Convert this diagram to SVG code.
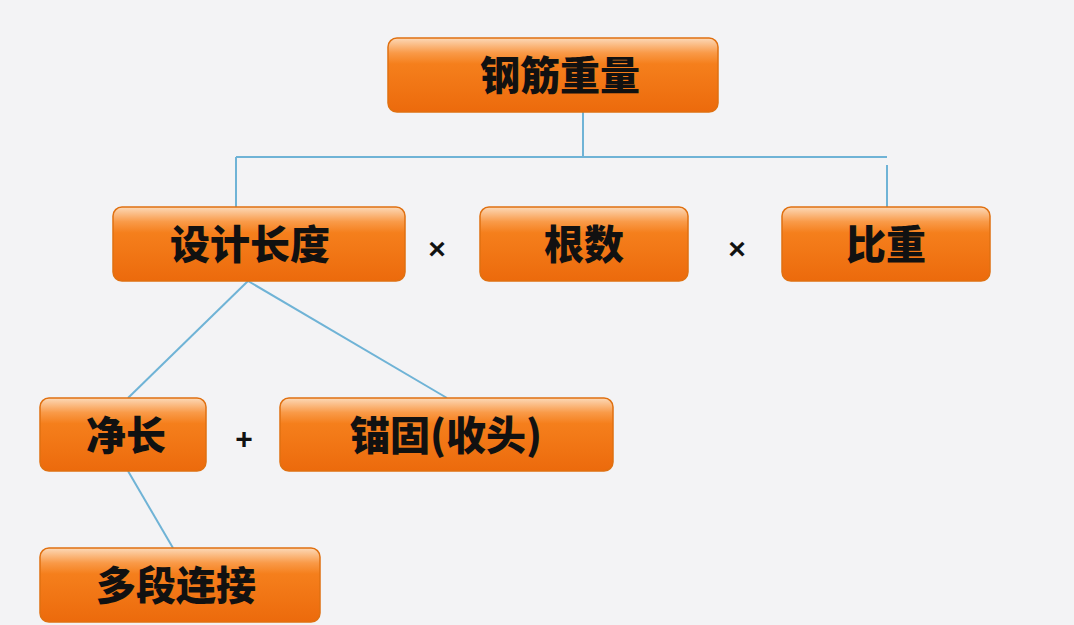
<svg xmlns="http://www.w3.org/2000/svg" width="1074" height="625" viewBox="0 0 1074 625">
<style>
.n{stroke:#e07010;stroke-width:1.5}
.t{font-family:"Noto Sans CJK SC","Noto Sans CJK TC",sans-serif;font-weight:900;font-size:40px;fill:#111;text-anchor:middle}
.op{font-family:"Liberation Sans",sans-serif;font-weight:bold;font-size:30px;fill:#111;text-anchor:middle}
.c line{stroke:#6fb3d6;stroke-width:2}
</style>
<defs>
<linearGradient id="g" x1="0" y1="0" x2="0" y2="1">
<stop offset="0" stop-color="#fcd9b8"/>
<stop offset="0.2" stop-color="#f99a48"/>
<stop offset="0.35" stop-color="#f57f1c"/>
<stop offset="1" stop-color="#ec6a0c"/>
</linearGradient>
</defs>
<rect width="1074" height="625" fill="#f3f3f5"/>
<g class="c">
<line x1="583" y1="112" x2="583" y2="157"/>
<line x1="236" y1="157" x2="887" y2="157"/>
<line x1="236" y1="157" x2="236" y2="207"/>
<line x1="887" y1="165" x2="887" y2="207"/>
<line x1="248" y1="281" x2="128" y2="398"/>
<line x1="248" y1="281" x2="447" y2="398"/>
<line x1="128" y1="471" x2="173" y2="548"/>
</g>
<g id="n1"><rect class="n" x="388" y="38" width="330" height="74" rx="9" fill="url(#g)"/><text class="t" x="560" y="90">钢筋重量</text></g>
<g id="n2"><rect class="n" x="113" y="207" width="292" height="74" rx="9" fill="url(#g)"/><text class="t" x="250" y="259">设计长度</text></g>
<g id="n3"><rect class="n" x="480" y="207" width="208" height="74" rx="9" fill="url(#g)"/><text class="t" x="584" y="259">根数</text></g>
<g id="n4"><rect class="n" x="782" y="207" width="208" height="74" rx="9" fill="url(#g)"/><text class="t" x="886" y="259">比重</text></g>
<g id="n5"><rect class="n" x="40" y="398" width="166" height="73" rx="9" fill="url(#g)"/><text class="t" x="126" y="450">净长</text></g>
<g id="n6"><rect class="n" x="280" y="398" width="333" height="73" rx="9" fill="url(#g)"/><text class="t" x="446" y="450">锚固(收头)</text></g>
<g id="n7"><rect class="n" x="40" y="548" width="280" height="74" rx="9" fill="url(#g)"/><text class="t" x="176" y="600">多段连接</text></g>
<text class="op" x="437" y="259">×</text>
<text class="op" x="737" y="259">×</text>
<text class="op" x="244" y="449">+</text>
</svg>
